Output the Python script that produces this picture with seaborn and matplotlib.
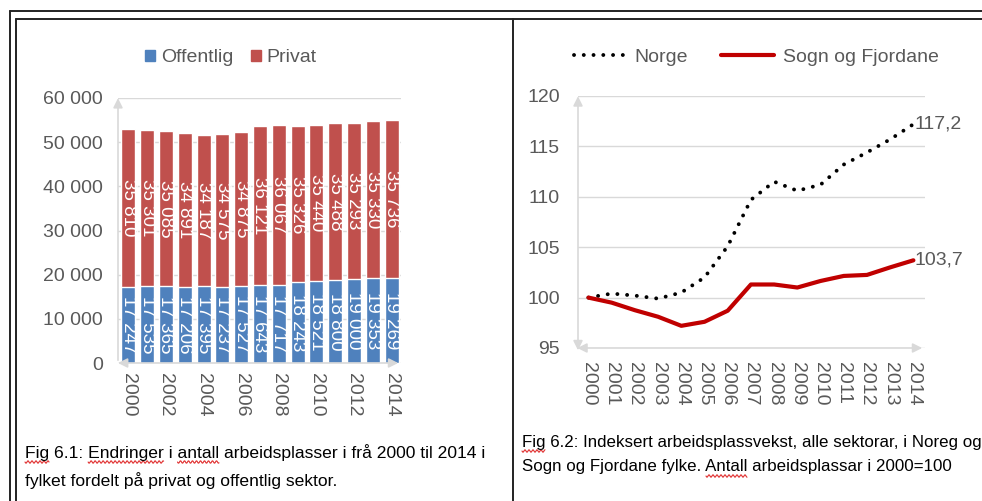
import numpy as np
import pandas as pd
import matplotlib
matplotlib.use("Agg")
import matplotlib.pyplot as plt
import seaborn as sns
from matplotlib.lines import Line2D

# data
years = list(range(2000, 2015))
offentlig = [17247, 17535, 17365, 17206, 17395, 17237, 17527, 17643,
             17717, 18243, 18521, 18800, 19000, 19353, 19269]
privat = [35810, 35301, 35085, 34891, 34187, 34575, 34875, 36121,
          36067, 35326, 35440, 35488, 35293, 35330, 35736]
norge = [100.0, 100.4, 100.2, 99.9, 100.5, 102.0, 105.1, 109.7,
         111.5, 110.6, 111.2, 113.2, 114.4, 115.7, 117.2]
sogn = [100.0, 99.5, 98.75, 98.1, 97.2, 97.6, 98.7, 101.3,
        101.3, 101.0, 101.65, 102.15, 102.25, 103.0, 103.7]
left_ticks = [0, 10000, 20000, 30000, 40000, 50000, 60000]
right_ticks = [95, 100, 105, 110, 115, 120]

sns.set_style("white")
plt.rcParams['font.family'] = ['Liberation Sans', 'DejaVu Sans']

BLUE = "#4F81BD"
RED = "#C0504D"
LINE_RED = "#C00000"
GREY = "#595959"
GRID = "#D9D9D9"
FS = 14

W, H = 982, 501
fig = plt.figure(figsize=(W / 100, H / 100), dpi=100)


def fx(px):
    return px / W


def fy(py):
    return 1 - py / H


def fmt(v):
    return f"{v:,}".replace(",", " ")


# page frame (table borders)
frame = [((10, 11), (990, 11)), ((16, 19), (990, 19)),
         ((10, 11), (10, 510)), ((16, 19), (16, 510)),
         ((513, 19), (513, 510))]
for (x0, y0), (x1, y1) in frame:
    fig.add_artist(Line2D([fx(x0), fx(x1)], [fy(y0), fy(y1)],
                          color="#222222", lw=1.4))

# ---------- left: stacked bars ----------
ax1 = fig.add_axes([fx(118), fy(363), fx(401) - fx(118), fy(98) - fy(363)])
df = pd.DataFrame({"year": [str(y) for y in years],
                   "total": np.array(offentlig) + np.array(privat),
                   "offentlig": offentlig, "privat": privat})
sns.barplot(data=df, x="year", y="total", color=RED, width=0.74,
            saturation=1, ax=ax1)
sns.barplot(data=df, x="year", y="offentlig", color=BLUE, width=0.74,
            saturation=1, ax=ax1)
for i, (o, p) in enumerate(zip(offentlig, privat)):
    ax1.text(i, o / 2, fmt(o), rotation=270, ha="center", va="center",
             color="white", fontsize=13.5)
    ax1.text(i, o + p / 2, fmt(p), rotation=270, ha="center", va="center",
             color="white", fontsize=13.5)
ax1.set_ylim(0, 60000)
ax1.set_xlim(-0.55, 14.5)
ax1.set_yticks(left_ticks)
ax1.set_yticklabels([fmt(t) for t in left_ticks])
ax1.set_xticks(range(0, 15, 2))
ax1.set_xticklabels([str(y) for y in years[::2]], rotation=270)
ax1.set_xlabel("")
ax1.set_ylabel("")
ax1.yaxis.grid(True, color=GRID, lw=1)
ax1.set_axisbelow(True)
for s in ax1.spines.values():
    s.set_visible(False)
ax1.tick_params(length=0, colors=GREY, labelsize=FS)
ax1.tick_params(axis="y", pad=11)
ax1.tick_params(axis="x", pad=7)
ax1.annotate("", xy=(0, 1.01), xytext=(0, 0), xycoords="axes fraction",
             arrowprops=dict(arrowstyle="-|>", color=GRID, lw=1.2,
                             mutation_scale=14))
ax1.annotate("", xy=(-0.01, 0), xytext=(1.0, 0), xycoords="axes fraction",
             arrowprops=dict(arrowstyle="<|-|>", color=GRID, lw=1.2,
                             mutation_scale=14))

handles = [plt.Rectangle((0, 0), 1, 1, color=BLUE),
           plt.Rectangle((0, 0), 1, 1, color=RED)]
fig.legend(handles, ["Offentlig", "Privat"], loc="center",
           bbox_to_anchor=(fx(231), fy(58)), ncol=2, frameon=False,
           fontsize=FS, labelcolor=GREY, handlelength=0.5,
           handleheight=0.5, handletextpad=0.3, columnspacing=0.9)

# ---------- right: index lines ----------
DOTS = (0, (0.01, 2.5))
ax2 = fig.add_axes([fx(578), fy(348), fx(925) - fx(578), fy(96) - fy(348)])
sns.lineplot(x=np.arange(15), y=norge, color="black", lw=2.8,
             linestyle=DOTS, dash_capstyle="round", ax=ax2)
sns.lineplot(x=np.arange(15), y=sogn, color=LINE_RED, lw=3, ax=ax2)
ax2.text(14.05, norge[-1], f"{norge[-1]:.1f}".replace(".", ","),
         ha="left", va="center", fontsize=FS, color=GREY)
ax2.text(14.05, sogn[-1], f"{sogn[-1]:.1f}".replace(".", ","),
         ha="left", va="center", fontsize=FS, color=GREY)
ax2.set_ylim(95, 120)
ax2.set_xlim(-0.45, 14.5)
ax2.set_yticks(right_ticks)
ax2.set_xticks(range(15))
ax2.set_xticklabels([str(y) for y in years], rotation=270)
ax2.yaxis.grid(True, color=GRID, lw=1)
ax2.set_axisbelow(True)
for s in ax2.spines.values():
    s.set_visible(False)
ax2.tick_params(length=0, colors=GREY, labelsize=FS)
ax2.tick_params(axis="y", pad=13)
ax2.tick_params(axis="x", pad=10)
ax2.annotate("", xy=(0, 1.01), xytext=(0, -0.02), xycoords="axes fraction",
             arrowprops=dict(arrowstyle="<|-|>", color=GRID, lw=1.2,
                             mutation_scale=14))
ax2.annotate("", xy=(-0.01, 0), xytext=(1.0, 0), xycoords="axes fraction",
             arrowprops=dict(arrowstyle="<|-|>", color=GRID, lw=1.2,
                             mutation_scale=14))

lh = [Line2D([], [], color="black", lw=2.8, linestyle=DOTS,
             dash_capstyle="round"),
      Line2D([], [], color=LINE_RED, lw=3)]
fig.legend(lh, ["Norge", "Sogn og Fjordane"], loc="center left",
           bbox_to_anchor=(fx(556), fy(57)), ncol=2, frameon=False,
           fontsize=FS, labelcolor=GREY, handlelength=2.7,
           handletextpad=0.45, columnspacing=1.7)

# ---------- captions ----------
captions = [
    (25, 453, 12.6, "Fig 6.1: Endringer i antall arbeidsplasser i frå 2000 til 2014 i",
     ["Fig", "Endringer", "antall"]),
    (25, 481, 12.6, "fylket fordelt på privat og offentlig sektor.", []),
    (522, 442, 12.2, "Fig 6.2: Indeksert arbeidsplassvekst, alle sektorar, i Noreg og",
     ["Fig"]),
    (522, 467, 12.2, "Sogn og Fjordane fylke. Antall arbeidsplassar i 2000=100",
     ["Antall"]),
]
renderer = fig.canvas.get_renderer()
for x, y, size, s, marked in captions:
    t = fig.text(fx(x), fy(y), s, fontsize=size, color="black",
                 ha="left", va="center")
    prop = t.get_fontproperties()
    for word in marked:
        i = s.index(word)
        w0 = renderer.get_text_width_height_descent(s[:i], prop, ismath=False)[0] if i else 0
        w1 = renderer.get_text_width_height_descent(s[:i + len(word)], prop,
                                                    ismath=False)[0]
        xs = np.arange(x + w0, x + w1, 0.5)
        ys = y + 9 + 1.2 * np.sin((xs - xs[0]) * np.pi / 2)
        fig.add_artist(Line2D(fx(xs), fy(ys), color="#E03030", lw=0.8))

fig.savefig("out.png", dpi=100)
